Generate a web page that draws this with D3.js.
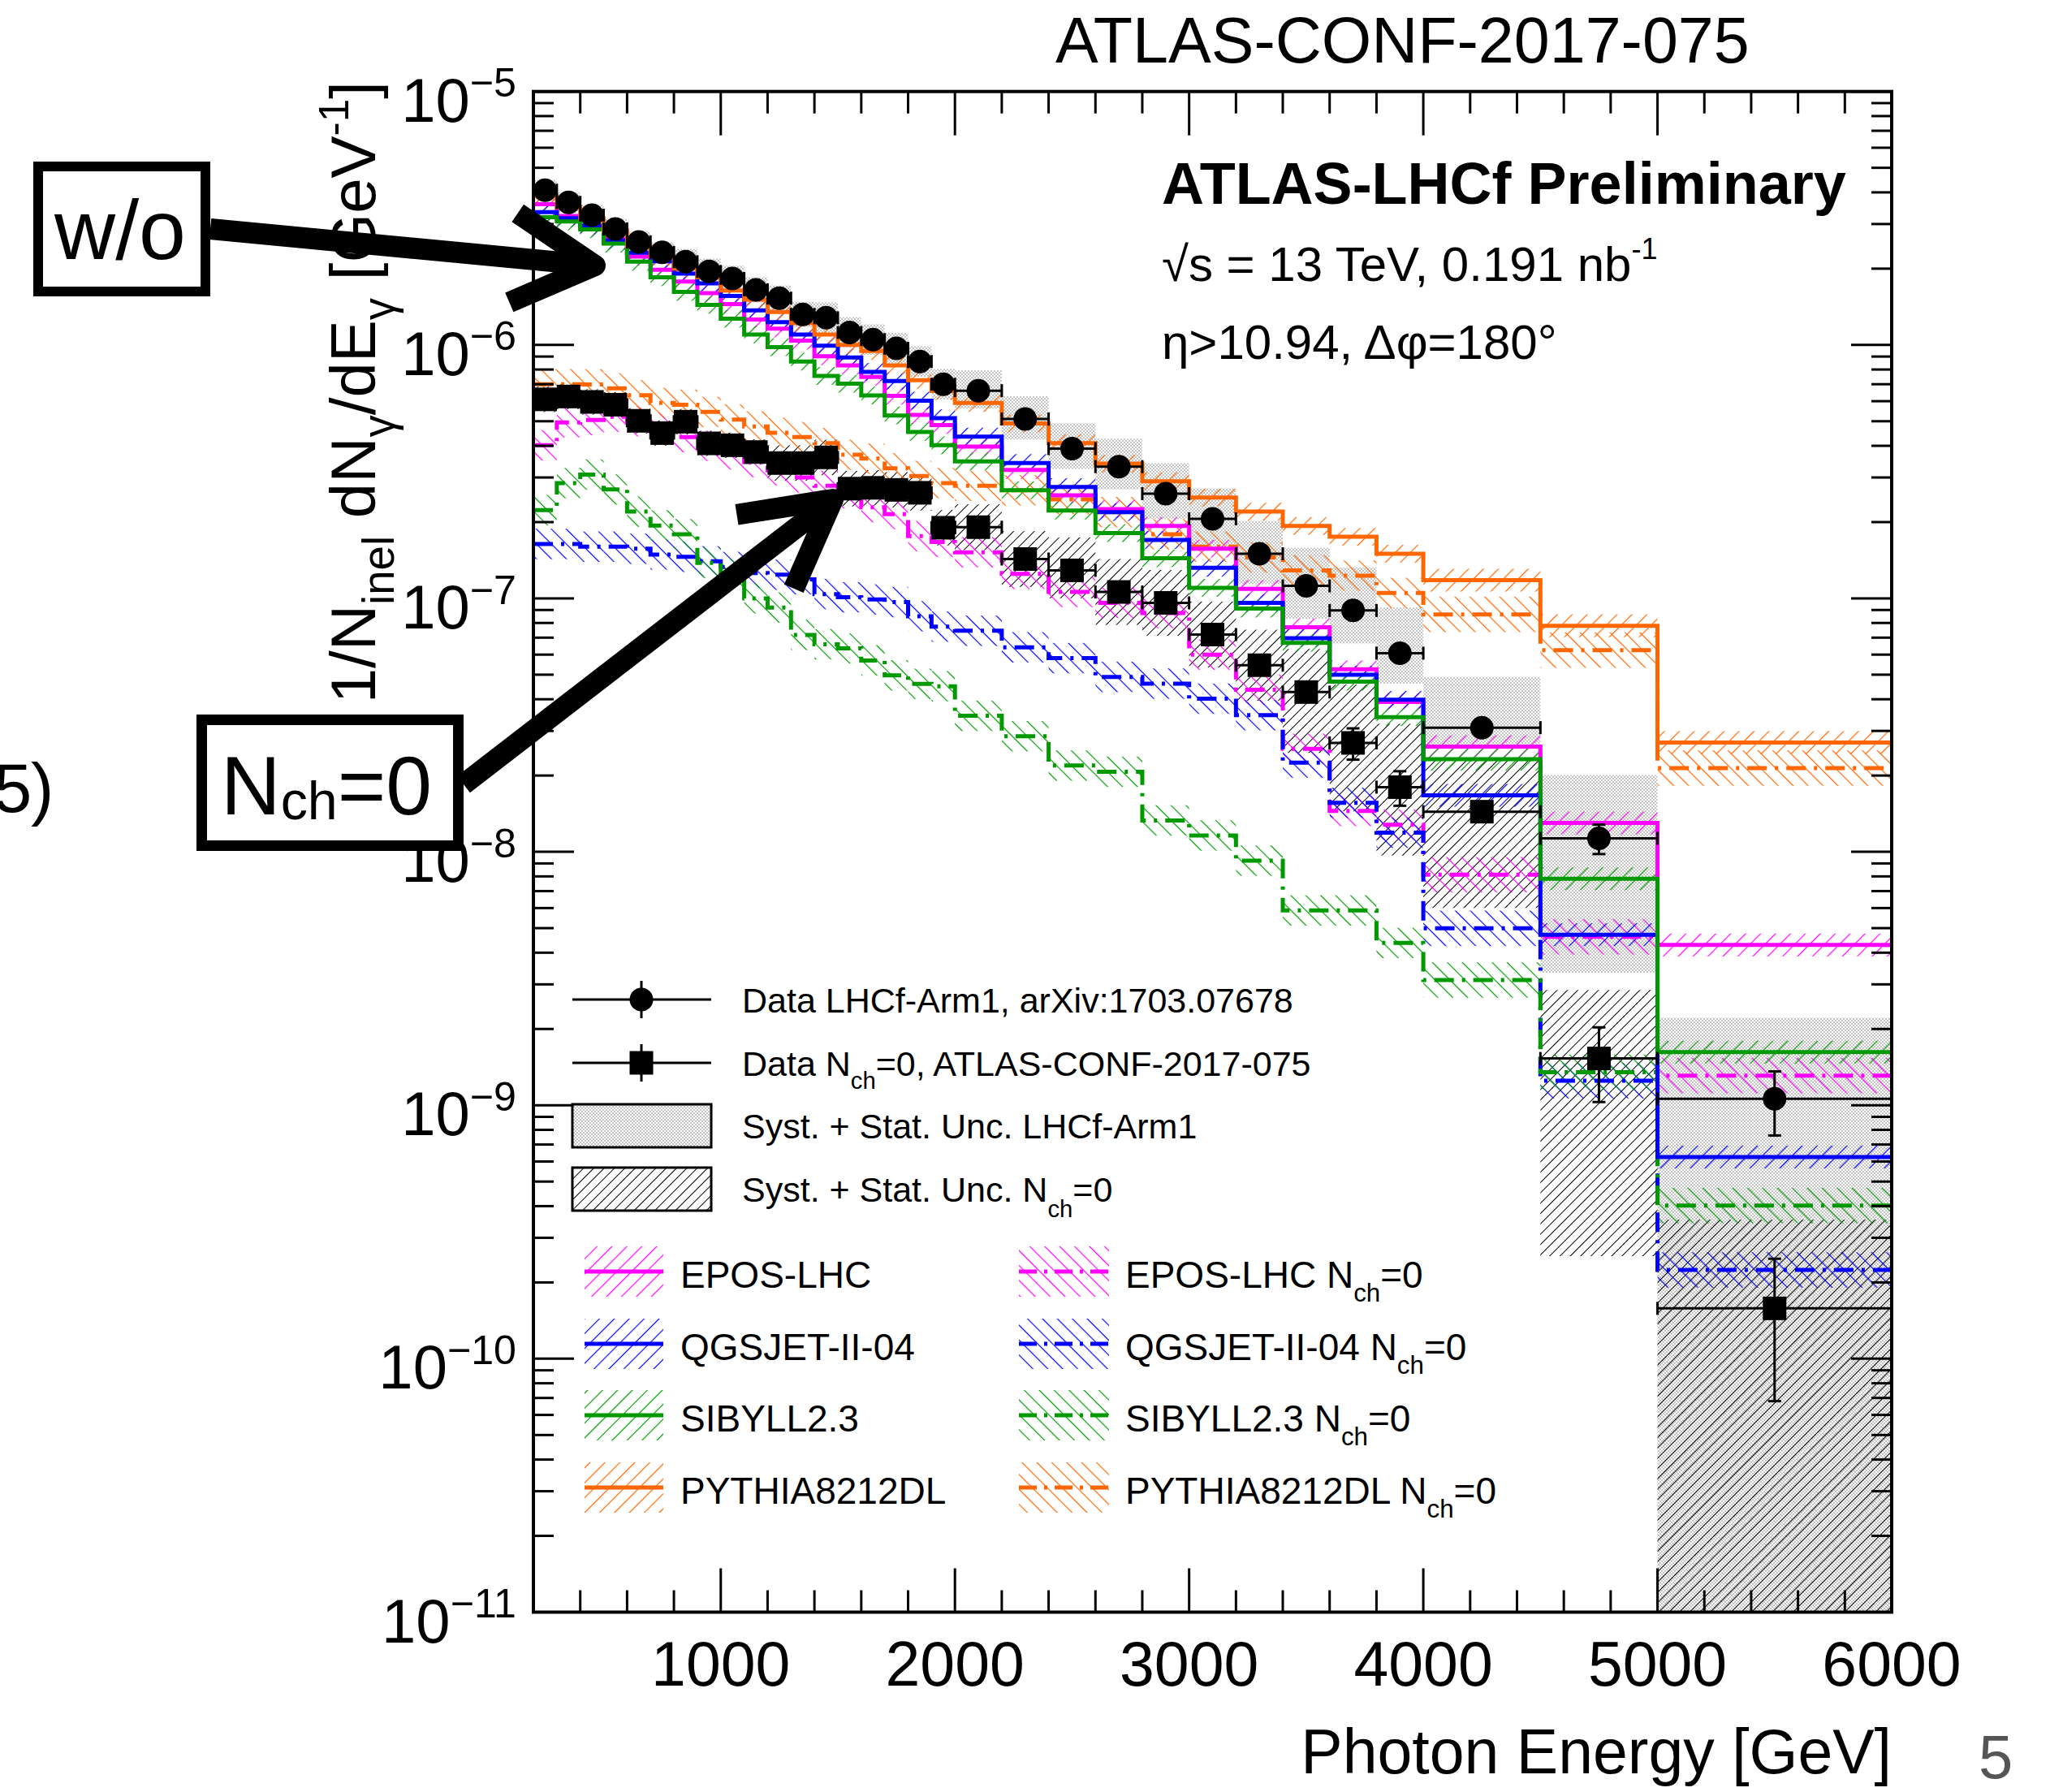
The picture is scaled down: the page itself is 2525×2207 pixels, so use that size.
<!DOCTYPE html>
<html>
<head>
    <meta charset="utf-8">
    <title>ATLAS-LHCf photon energy spectra</title>
    <script src="https://cdn.jsdelivr.net/npm/d3@7"></script>
    <style>
        body { margin: 0; background: #fff; }
        svg { display: block; font-family: "Liberation Sans", Arial, Helvetica, sans-serif; }
    </style>
</head>
<body>
<div id="chart"></div>
<script>
// ---- data ----
// bin edges [GeV]
var binEdges = [200,300,400,500,600,700,800,900,1000,1100,1200,1300,1400,1500,1600,1700,1800,1900,2000,
                2200,2400,2600,2800,3000,3200,3400,3600,3800,4000,4500,5000,6000];

// LHCf Arm1 (w/o selection), circles
var lhcfData = [4.08e-6,3.65e-6,3.25e-6,2.87e-6,2.55e-6,2.32e-6,2.13e-6,1.95e-6,1.83e-6,1.65e-6,1.53e-6,1.32e-6,1.28e-6,1.12e-6,1.05e-6,9.7e-7,8.6e-7,7.0e-7,
                6.6e-7,5.1e-7,3.9e-7,3.31e-7,2.59e-7,2.06e-7,1.50e-7,1.12e-7,8.96e-8,6.08e-8,
                3.09e-8,1.13e-8,1.06e-9];
var lhcfStat = [4e-8,3.5e-8,3.1e-8,2.7e-8,2.4e-8,2.2e-8,2e-8,1.9e-8,1.8e-8,1.6e-8,1.5e-8,1.3e-8,1.3e-8,1.1e-8,1.1e-8,1e-8,9e-9,8e-9,
                1.3e-8,1.1e-8,9e-9,8e-9,7e-9,6e-9,5e-9,4e-9,3.5e-9,3e-9,
                1.5e-9,1.5e-9,3e-10];
// syst+stat band, in decades above / below the point
var lhcfSysUp   = [0.04,0.04,0.04,0.04,0.04,0.04,0.05,0.05,0.05,0.05,0.05,0.05,0.06,0.06,0.06,0.06,0.06,0.06,
                   0.08,0.09,0.10,0.11,0.12,0.12,0.13,0.15,0.17,0.18,0.20,0.25,0.32];
var lhcfSysDown = [0.04,0.04,0.04,0.04,0.04,0.04,0.05,0.05,0.05,0.05,0.05,0.05,0.06,0.06,0.06,0.06,0.06,0.06,
                   0.07,0.08,0.08,0.09,0.10,0.11,0.12,0.13,0.13,0.12,0.08,0.53,3.0];

// ATLAS Nch=0, squares
var nchData = [6.10e-7,6.26e-7,5.96e-7,5.81e-7,5.02e-7,4.49e-7,4.98e-7,4.09e-7,4.02e-7,3.78e-7,3.42e-7,3.42e-7,3.60e-7,2.71e-7,2.73e-7,2.68e-7,2.61e-7,1.90e-7,
               1.91e-7,1.43e-7,1.29e-7,1.06e-7,9.6e-8,7.2e-8,5.45e-8,4.27e-8,2.69e-8,1.80e-8,
               1.44e-8,1.53e-9,1.58e-10];
var nchStat = [1.2e-8,1.2e-8,1.2e-8,1.2e-8,1e-8,9e-9,1e-8,8e-9,8e-9,8e-9,7e-9,7e-9,7e-9,6e-9,6e-9,6e-9,6e-9,5e-9,
               5e-9,4e-9,4e-9,3.5e-9,3.5e-9,3e-9,2.5e-9,2.2e-9,3.8e-9,2.8e-9,
               1.1e-9,5e-10,9e-11];
var nchSysUp   = [0.05,0.05,0.05,0.05,0.05,0.05,0.05,0.05,0.05,0.05,0.07,0.07,0.07,0.07,0.07,0.07,0.07,0.07,
                  0.09,0.11,0.13,0.13,0.13,0.13,0.14,0.17,0.23,0.25,0.21,0.27,0.35];
var nchSysDown = [0.05,0.05,0.05,0.05,0.05,0.05,0.05,0.05,0.05,0.05,0.07,0.07,0.07,0.07,0.07,0.07,0.07,0.07,
                  0.09,0.11,0.11,0.13,0.13,0.13,0.14,0.24,0.27,0.27,0.38,0.78,3.0];

// MC predictions, inclusive (solid)
var eposWo = [3.59e-6,3.23e-6,2.90e-6,2.62e-6,2.23e-6,1.98e-6,1.78e-6,1.60e-6,1.45e-6,1.26e-6,1.16e-6,1.04e-6,9.02e-7,8.3e-7,7.47e-7,6.3e-7,5.3e-7,4.83e-7,
              3.97e-7,3.21e-7,2.55e-7,2.25e-7,1.93e-7,1.57e-7,1.09e-7,7.69e-8,5.25e-8,3.9e-8,2.6e-8,1.3e-8,4.29e-9];
var qgsWo  = [3.34e-6,3.16e-6,2.96e-6,2.58e-6,2.31e-6,2.14e-6,1.91e-6,1.75e-6,1.56e-6,1.37e-6,1.23e-6,1.10e-6,9.93e-7,8.92e-7,7.83e-7,7.2e-7,6.03e-7,5.14e-7,
              4.35e-7,3.42e-7,2.75e-7,2.19e-7,1.70e-7,1.32e-7,9.6e-8,6.97e-8,5.0e-8,3.98e-8,1.67e-8,4.71e-9,6.25e-10];
var sibWo  = [3.19e-6,3.07e-6,2.86e-6,2.51e-6,2.13e-6,1.85e-6,1.62e-6,1.44e-6,1.27e-6,1.10e-6,9.8e-7,8.6e-7,7.55e-7,7.03e-7,6.32e-7,5.27e-7,4.54e-7,4.02e-7,
              3.47e-7,2.67e-7,2.22e-7,1.81e-7,1.44e-7,1.10e-7,9.12e-8,6.68e-8,4.69e-8,3.40e-8,2.32e-8,7.83e-9,1.62e-9];
var pytWo  = [3.86e-6,3.50e-6,3.15e-6,2.83e-6,2.45e-6,2.23e-6,2.0e-6,1.85e-6,1.64e-6,1.51e-6,1.35e-6,1.22e-6,1.10e-6,1.0e-6,9.46e-7,8.3e-7,7.26e-7,6.58e-7,
              5.9e-7,4.9e-7,4.1e-7,3.4e-7,2.9e-7,2.5e-7,2.2e-7,1.93e-7,1.75e-7,1.5e-7,1.18e-7,7.8e-8,2.7e-8];
// MC predictions, Nch=0 (dash-dot)
var eposNch = [4.02e-7,4.95e-7,5.06e-7,5.21e-7,5.0e-7,4.7e-7,4.33e-7,4.0e-7,3.7e-7,3.45e-7,3.2e-7,3.0e-7,2.78e-7,2.6e-7,2.29e-7,2.15e-7,1.76e-7,1.67e-7,
               1.52e-7,1.25e-7,1.06e-7,9.6e-8,8.75e-8,6.0e-8,4.36e-8,2.55e-8,1.45e-8,1.28e-8,8.12e-9,4.62e-9,1.31e-9];
var qgsNch  = [1.64e-7,1.64e-7,1.60e-7,1.60e-7,1.57e-7,1.49e-7,1.46e-7,1.40e-7,1.33e-7,1.26e-7,1.24e-7,1.19e-7,1.04e-7,1.01e-7,9.9e-8,9.67e-8,8.5e-8,7.74e-8,
               7.45e-8,6.41e-8,5.81e-8,4.90e-8,4.61e-8,4.02e-8,3.46e-8,2.25e-8,1.56e-8,1.19e-8,4.99e-9,1.25e-9,2.24e-10];
var sibNch  = [2.23e-7,2.85e-7,3.08e-7,2.69e-7,2.20e-7,1.94e-7,1.79e-7,1.38e-7,1.25e-7,1.0e-7,9.2e-8,7.18e-8,6.59e-8,6.35e-8,5.69e-8,4.97e-8,4.6e-8,4.5e-8,
               3.44e-8,2.86e-8,2.19e-8,2.07e-8,1.33e-8,1.16e-8,9.23e-9,5.87e-9,5.87e-9,4.37e-9,3.12e-9,1.35e-9,4.02e-10];
var pytNch  = [7.0e-7,7.0e-7,6.99e-7,6.74e-7,6.33e-7,5.9e-7,5.81e-7,5.44e-7,5.08e-7,4.77e-7,4.5e-7,4.33e-7,4.1e-7,3.69e-7,3.56e-7,3.26e-7,3.04e-7,2.85e-7,
               2.78e-7,2.67e-7,2.46e-7,2.19e-7,1.79e-7,1.60e-7,1.45e-7,1.29e-7,1.23e-7,1.05e-7,8.65e-8,6.25e-8,2.14e-8];
// MC band half widths, decades
var mcBandWo  = [0.035,0.035,0.035,0.035,0.035,0.035,0.035,0.035,0.035,0.035,0.035,0.035,0.035,0.035,0.035,0.035,0.035,0.035,
                 0.035,0.035,0.035,0.035,0.035,0.035,0.035,0.035,0.035,0.035,0.045,0.045,0.045];
var mcBandNch = [0.06,0.06,0.06,0.06,0.06,0.06,0.06,0.06,0.06,0.06,0.06,0.06,0.06,0.06,0.06,0.06,0.06,0.06,
                 0.06,0.06,0.06,0.06,0.06,0.06,0.06,0.06,0.06,0.06,0.07,0.07,0.07];

var modelNames  = ["EPOS-LHC", "QGSJET-II-04", "SIBYLL2.3", "PYTHIA8212DL"];
var modelColors = ["#ff00ff", "#0000ff", "#009a00", "#ff6600"];
var xTicks = [1000, 2000, 3000, 4000, 5000, 6000];
var yTicks = [-11, -10, -9, -8, -7, -6, -5];

var models = modelNames.map(function(n, i) {
    return {name: n, color: modelColors[i], wo: [eposWo, qgsWo, sibWo, pytWo][i], nch: [eposNch, qgsNch, sibNch, pytNch][i], key: "m" + i};
});

// ---- layout ----
var W = 2525, H = 2207;
var L = 657, R = 2330, T = 112.7, B = 1985.5;
var x = d3.scaleLinear().domain([200, 6000]).range([L, R]);
var y = d3.scaleLog().domain([1e-11, 1e-5]).range([B, T]);

var svg = d3.select("#chart").append("svg").attr("width", W).attr("height", H);
var defs = svg.append("defs");
defs.append("clipPath").attr("id", "plotclip")
    .append("rect").attr("x", L).attr("y", T).attr("width", R - L).attr("height", B - T);

// hatch patterns
function hatch(id, color, angle, gap, w) {
    var p = defs.append("pattern").attr("id", id)
        .attr("patternUnits", "userSpaceOnUse")
        .attr("width", gap).attr("height", gap)
        .attr("patternTransform", "rotate(" + angle + ")");
    p.append("line").attr("x1", gap / 2).attr("y1", 0).attr("x2", gap / 2).attr("y2", gap)
        .attr("stroke", color).attr("stroke-width", w);
}
models.forEach(function(m) {
    hatch(m.key + "wo", m.color, 45, 13, 1.2);
    hatch(m.key + "nch", m.color, -45, 13, 1.2);
});
hatch("blackhatch", "#000", 45, 9, 1.0);
var chk = defs.append("pattern").attr("id", "graychk").attr("patternUnits", "userSpaceOnUse")
    .attr("width", 4).attr("height", 4);
chk.append("rect").attr("x", 0).attr("y", 0).attr("width", 2).attr("height", 2).attr("fill", "#c4c4c4");
chk.append("rect").attr("x", 2).attr("y", 2).attr("width", 2).attr("height", 2).attr("fill", "#c4c4c4");

var plot = svg.append("g").attr("clip-path", "url(#plotclip)");

function bandRects(g, vals, up, down, fill) {
    g.selectAll(null).data(vals).enter().append("rect")
        .attr("x", function(d, i) { return x(binEdges[i]); })
        .attr("width", function(d, i) { return x(binEdges[i + 1]) - x(binEdges[i]); })
        .attr("y", function(d, i) { return y(d * Math.pow(10, up[i])); })
        .attr("height", function(d, i) { return y(d / Math.pow(10, down[i])) - y(d * Math.pow(10, up[i])); })
        .attr("fill", fill);
}

function stepPath(vals) {
    var p = d3.path();
    vals.forEach(function(v, i) {
        if (i === 0) p.moveTo(x(binEdges[0]), y(v));
        else p.lineTo(x(binEdges[i]), y(v));
        p.lineTo(x(binEdges[i + 1]), y(v));
    });
    return p.toString();
}

// data uncertainty bands
bandRects(plot.append("g"), lhcfData, lhcfSysUp, lhcfSysDown, "url(#graychk)");
bandRects(plot.append("g"), nchData, nchSysUp, nchSysDown, "url(#blackhatch)");

// MC bands then lines
var dashDot = "24,10,4,10";
models.forEach(function(m) {
    bandRects(plot.append("g"), m.wo, mcBandWo, mcBandWo, "url(#" + m.key + "wo)");
    bandRects(plot.append("g"), m.nch, mcBandNch, mcBandNch, "url(#" + m.key + "nch)");
});
models.forEach(function(m) {
    plot.append("path").attr("d", stepPath(m.nch)).attr("fill", "none")
        .attr("stroke", m.color).attr("stroke-width", 5).attr("stroke-dasharray", dashDot);
});
models.forEach(function(m) {
    plot.append("path").attr("d", stepPath(m.wo)).attr("fill", "none")
        .attr("stroke", m.color).attr("stroke-width", 5);
});

// data points with error bars
function drawPoints(vals, errs, shape) {
    var g = plot.append("g").attr("stroke", "#000").attr("stroke-width", 3);
    vals.forEach(function(v, i) {
        var x0 = x(binEdges[i]), x1 = x(binEdges[i + 1]), xc = (x0 + x1) / 2;
        var yc = y(v), yt = y(v + errs[i]), yb = y(Math.max(v - errs[i], 1e-13));
        g.append("line").attr("x1", x0).attr("x2", x1).attr("y1", yc).attr("y2", yc);
        g.append("line").attr("x1", x0).attr("x2", x0).attr("y1", yc - 8).attr("y2", yc + 8);
        g.append("line").attr("x1", x1).attr("x2", x1).attr("y1", yc - 8).attr("y2", yc + 8);
        g.append("line").attr("x1", xc).attr("x2", xc).attr("y1", yt).attr("y2", yb);
        g.append("line").attr("x1", xc - 8).attr("x2", xc + 8).attr("y1", yt).attr("y2", yt);
        g.append("line").attr("x1", xc - 8).attr("x2", xc + 8).attr("y1", yb).attr("y2", yb);
        if (shape === "circle") {
            g.append("circle").attr("cx", xc).attr("cy", yc).attr("r", 14.5).attr("fill", "#000").attr("stroke", "none");
        } else {
            g.append("rect").attr("x", xc - 14.5).attr("y", yc - 14.5).attr("width", 29).attr("height", 29)
                .attr("fill", "#000").attr("stroke", "none");
        }
    });
}
drawPoints(nchData, nchStat, "square");
drawPoints(lhcfData, lhcfStat, "circle");

// ---- frame and ticks ----
var axes = svg.append("g").attr("stroke", "#000");
axes.append("rect").attr("x", L).attr("y", T).attr("width", R - L).attr("height", B - T)
    .attr("fill", "none").attr("stroke-width", 4);
d3.range(400, 6000, 200).forEach(function(v) {
    var len = (v % 1000 === 0) ? 54 : 27;
    axes.append("line").attr("x1", x(v)).attr("x2", x(v)).attr("y1", B).attr("y2", B - len).attr("stroke-width", 3);
    axes.append("line").attr("x1", x(v)).attr("x2", x(v)).attr("y1", T).attr("y2", T + len).attr("stroke-width", 3);
});
yTicks.forEach(function(e) {
    for (var k = 1; k < 10; k++) {
        var v = k * Math.pow(10, e);
        if (v > 1e-5 * 1.0001) break;
        var len = (k === 1) ? 50 : 25;
        axes.append("line").attr("x1", L).attr("x2", L + len).attr("y1", y(v)).attr("y2", y(v)).attr("stroke-width", 3);
        axes.append("line").attr("x1", R).attr("x2", R - len).attr("y1", y(v)).attr("y2", y(v)).attr("stroke-width", 3);
    }
});

// rich text helper: parts = [[text, "", "sub" or "sup"], ...]
function rich(g, px, py, parts, size, opts) {
    opts = opts || {};
    var t = g.append("text").attr("x", px).attr("y", py).attr("font-size", size)
        .attr("text-anchor", opts.anchor || "start").attr("fill", opts.fill || "#000");
    if (opts.weight) t.attr("font-weight", opts.weight);
    if (opts.transform) t.attr("transform", opts.transform);
    var shift = 0;
    parts.forEach(function(p) {
        var s = 0, fs = size;
        if (p[1] === "sub") { s = size * (opts.subShift || 0.32); fs = size * (opts.subSize || 0.68); }
        if (p[1] === "sup") { s = -size * (opts.supShift || 0.42); fs = size * (opts.supSize || 0.66); }
        t.append("tspan").attr("dy", s - shift).attr("font-size", fs).text(p[0]);
        shift = s;
    });
    return t;
}

var txt = svg.append("g");
// x tick labels
xTicks.forEach(function(v) {
    txt.append("text").attr("x", x(v)).attr("y", 2076).attr("font-size", 77)
        .attr("text-anchor", "middle").text(v);
});
// y tick labels
yTicks.forEach(function(e) {
    rich(txt, 636, y(Math.pow(10, e)) + 37, [["10", ""], ["\u2212" + (-e), "sup"]], 76,
         {anchor: "end", supShift: 0.4, supSize: 0.66});
});
// axis titles
txt.append("text").attr("x", R).attr("y", 2184).attr("font-size", 77).attr("text-anchor", "end")
    .text("Photon Energy [GeV]");
rich(txt, 0, 0, [["1/N", ""], ["inel", "sub"], [" dN", ""], ["\u03b3", "sub"], ["/dE", ""], ["\u03b3", "sub"],
                 ["  [GeV", ""], ["-1", "sup"], ["]", ""]], 78,
     {anchor: "end", transform: "translate(462,100) rotate(-90)", subShift: 0.3, subSize: 0.7});

// header texts
txt.append("text").attr("x", 1300).attr("y", 77).attr("font-size", 79).text("ATLAS-CONF-2017-075");
txt.append("text").attr("x", 1431).attr("y", 251).attr("font-size", 72).attr("font-weight", "bold")
    .text("ATLAS-LHCf Preliminary");
rich(txt, 1431, 346, [["\u221as = 13 TeV, 0.191 nb", ""], ["-1", "sup"]], 60, {supShift: 0.45, supSize: 0.6});
txt.append("text").attr("x", 1431).attr("y", 442).attr("font-size", 60).text("\u03b7>10.94, \u0394\u03c6=180\u00b0");

// page leftovers
txt.append("text").attr("x", 2437).attr("y", 2190).attr("font-size", 76).attr("fill", "#555").text("5");
txt.append("text").attr("x", -8).attr("y", 1000).attr("font-size", 85).text("5");
txt.append("text").attr("x", 38).attr("y", 1000).attr("font-size", 85).text(")");

// ---- legend ----
var leg = svg.append("g");
function legMarker(cy, shape) {
    leg.append("line").attr("x1", 705).attr("x2", 876).attr("y1", cy).attr("y2", cy).attr("stroke", "#000").attr("stroke-width", 3);
    leg.append("line").attr("x1", 790).attr("x2", 790).attr("y1", cy - 23).attr("y2", cy + 23).attr("stroke", "#000").attr("stroke-width", 3);
    if (shape === "circle") leg.append("circle").attr("cx", 790).attr("cy", cy).attr("r", 14.5);
    else leg.append("rect").attr("x", 775.5).attr("y", cy - 14.5).attr("width", 29).attr("height", 29);
}
legMarker(1231, "circle");
rich(leg, 914, 1247, [["Data LHCf-Arm1, arXiv:1703.07678", ""]], 43);
legMarker(1309, "square");
rich(leg, 914, 1325, [["Data N", ""], ["ch", "sub"], ["=0, ATLAS-CONF-2017-075", ""]], 43, {subShift: 0.38});
leg.append("rect").attr("x", 705).attr("y", 1360).attr("width", 171).attr("height", 53)
    .attr("fill", "url(#graychk)").attr("stroke", "#000").attr("stroke-width", 3);
rich(leg, 914, 1402, [["Syst. + Stat. Unc. LHCf-Arm1", ""]], 43);
leg.append("rect").attr("x", 705).attr("y", 1438).attr("width", 171).attr("height", 53)
    .attr("fill", "url(#blackhatch)").attr("stroke", "#000").attr("stroke-width", 3);
rich(leg, 914, 1480, [["Syst. + Stat. Unc. N", ""], ["ch", "sub"], ["=0", ""]], 43, {subShift: 0.45});

var legRows = [1566, 1655, 1743, 1832];
models.forEach(function(m, i) {
    var cy = legRows[i];
    leg.append("rect").attr("x", 720).attr("y", cy - 31).attr("width", 97).attr("height", 62).attr("fill", "url(#" + m.key + "wo)");
    leg.append("line").attr("x1", 720).attr("x2", 817).attr("y1", cy).attr("y2", cy).attr("stroke", m.color).attr("stroke-width", 5);
    rich(leg, 838, cy + 20, [[m.name, ""]], 46);
    leg.append("rect").attr("x", 1255).attr("y", cy - 31).attr("width", 111).attr("height", 62).attr("fill", "url(#" + m.key + "nch)");
    leg.append("line").attr("x1", 1255).attr("x2", 1366).attr("y1", cy).attr("y2", cy).attr("stroke", m.color)
        .attr("stroke-width", 5).attr("stroke-dasharray", "22,9,4,9");
    rich(leg, 1386, cy + 20, [[m.name + " N", ""], ["ch", "sub"], ["=0", ""]], 46, {subShift: 0.38});
});

// ---- annotation boxes and arrows ----
var ann = svg.append("g");
function arrow(x1, y1, x2, y2, armLen, armAng, w) {
    var a = Math.atan2(y1 - y2, x1 - x2);
    ann.append("line").attr("x1", x1).attr("y1", y1).attr("x2", x2).attr("y2", y2)
        .attr("stroke", "#000").attr("stroke-width", w);
    var p = d3.path();
    p.moveTo(x2 + armLen * Math.cos(a + armAng), y2 + armLen * Math.sin(a + armAng));
    p.lineTo(x2, y2);
    p.lineTo(x2 + armLen * Math.cos(a - armAng), y2 + armLen * Math.sin(a - armAng));
    ann.append("path").attr("d", p.toString()).attr("fill", "none").attr("stroke", "#000")
        .attr("stroke-width", w).attr("stroke-linejoin", "round");
}
ann.append("rect").attr("x", 47).attr("y", 205).attr("width", 206).attr("height", 154)
    .attr("fill", "#fff").attr("stroke", "#000").attr("stroke-width", 12);
ann.append("text").attr("x", 148).attr("y", 319).attr("font-size", 104).attr("text-anchor", "middle").text("w/o");
arrow(259, 282, 733, 327, 115, 0.5, 26);

ann.append("rect").attr("x", 248.5).attr("y", 886.5).attr("width", 316).attr("height", 155)
    .attr("fill", "#fff").attr("stroke", "#000").attr("stroke-width", 13);
rich(ann, 272, 1003, [["N", ""], ["ch", "sub"], ["=0", ""]], 102, {subShift: 0.06, subSize: 0.65});
arrow(571, 966, 1026, 615, 120, 0.5, 26);
</script>
</body>
</html>
